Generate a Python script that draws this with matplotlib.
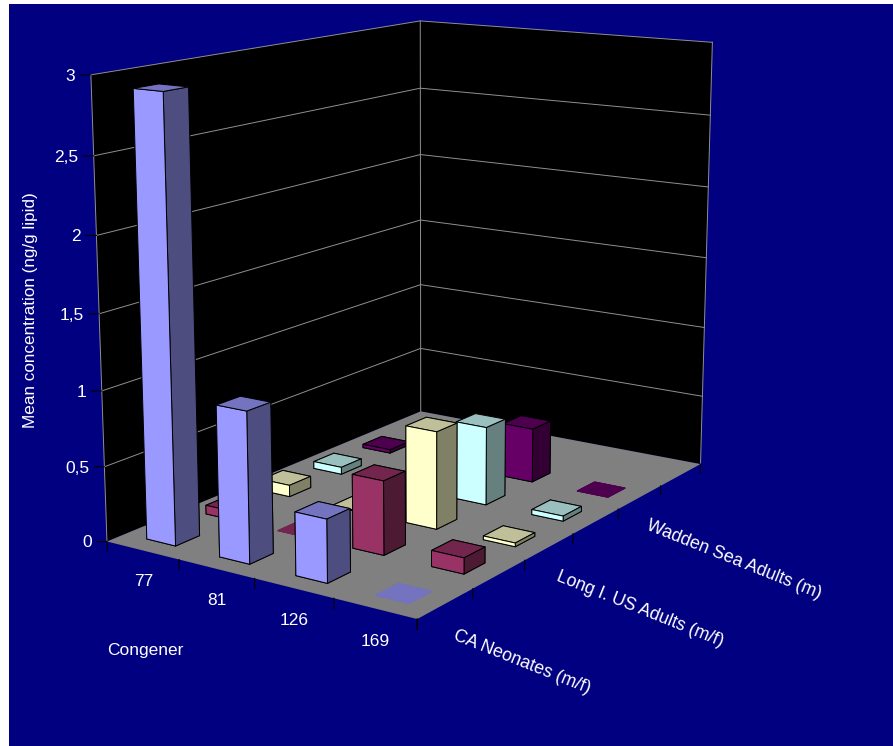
import matplotlib
matplotlib.use("Agg")
import matplotlib.pyplot as plt
from matplotlib.patches import Rectangle
from mpl_toolkits.mplot3d import proj3d
from mpl_toolkits.mplot3d.art3d import Poly3DCollection

plt.rcParams['font.family'] = ['Liberation Sans', 'DejaVu Sans']

congeners = ['77', '81', '126', '169']
series_names = ['CA Neonates (m/f)', '', 'Long I. US Adults (m/f)', '', 'Wadden Sea Adults (m)', '']
z_ticks = [0, 0.5, 1, 1.5, 2, 2.5, 3]
z_labels = ['0', '0,5', '1', '1,5', '2', '2,5', '3']

ca_neonates = [2.91, 0.99, 0.41, 0]
plum_series = [0.06, 0, 0.49, 0.105]
long_island = [0.08, 0.005, 0.66, 0.025]
cyan_series = [0.05, 0.01, 0.54, 0.035]
wadden_sea = [0.025, 0.01, 0.38, 0]
series_values = [ca_neonates, plum_series, long_island, cyan_series, wadden_sea]

# front, side, top
series_colors = [
    ('#9999FF', '#4D4D80', '#7373BF'),
    ('#993366', '#4D1A33', '#73264D'),
    ('#FFFFCC', '#808066', '#BFBF99'),
    ('#CCFFFF', '#668080', '#99BFBF'),
    ('#660066', '#330033', '#4D004D'),
]

W, H = 893, 746
fig = plt.figure(figsize=(W / 100, H / 100), dpi=100, facecolor='white')
fig.add_artist(Rectangle((9 / W, 0), 1 - 9 / W, 1 - 4 / H, transform=fig.transFigure,
                         facecolor='#000080', edgecolor='none', zorder=-5))

ax = fig.add_axes([22.21 / W, 65.02 / H, 772.52 / W, 772.52 / H], projection='3d', computed_zorder=False)
ax.set_axis_off()
ax.patch.set_visible(False)

nx = len(congeners)
ny = len(series_names)
zmax = z_ticks[-1]

ax.set_xlim(0, nx)
ax.set_ylim(0, ny)
ax.set_zlim(0, zmax)
ax.view_init(elev=12.985, azim=-55.848, roll=0.079)
ax.set_proj_type('persp', focal_length=0.536)
ax.set_box_aspect((1, 1.4928, 1.25))


def label_at(x, y, z, s, **kw):
    # 3d text ignores rotation, so project the anchor and place it as 2d text
    px, py, _ = proj3d.proj_transform(x, y, z, ax.get_proj())
    ax.text2D(px, py, s, transform=ax.transData, color='white', **kw)


line_color = '#909090'
# walls and floor
ax.add_collection3d(Poly3DCollection([[(0, 0, 0), (0, ny, 0), (0, ny, zmax), (0, 0, zmax)],
                                      [(0, ny, 0), (nx, ny, 0), (nx, ny, zmax), (0, ny, zmax)]],
                                     facecolors='black', edgecolors='none', zorder=1))
ax.add_collection3d(Poly3DCollection([[(0, 0, 0), (nx, 0, 0), (nx, ny, 0), (0, ny, 0)]],
                                     facecolors='#808080', edgecolors='none', zorder=2))

for v in z_ticks[1:]:
    ax.plot([0, 0, nx], [0, ny, ny], [v, v, v], color=line_color, lw=0.7, zorder=3)
for x0, y0 in [(0, 0), (0, ny), (nx, ny)]:
    ax.plot([x0, x0], [y0, y0], [0, zmax], color=line_color, lw=0.7, zorder=3)

# tick marks
for v, lab in zip(z_ticks, z_labels):
    ax.plot([0, -0.085], [0, -0.065], [v, v], color='black', lw=0.8, zorder=3)
    label_at(-0.125, -0.095, v - 0.008, lab, fontsize=12.5, ha='right', va='center')
for i in range(nx + 1):
    ax.plot([i, i], [0, 0], [0, -0.065], color='black', lw=0.8, zorder=3)
for j in range(ny + 1):
    ax.plot([nx, nx], [j, j], [0, -0.065], color='black', lw=0.8, zorder=3)

for i, lab in enumerate(congeners):
    label_at(i + 0.5, 0, -0.205, lab, fontsize=12.5, ha='center', va='center')
for j, lab in enumerate(series_names):
    if lab:
        label_at(nx + 0.1, j + 0.5, -0.185, lab, fontsize=12.8, ha='left', va='center',
                 rotation=-21.8, rotation_mode='anchor')

# back rows first so nearer bars cover them
bar_w = 0.4
order = 10
for j in range(len(series_values) - 1, -1, -1):
    front, side, top = series_colors[j]
    for i in range(nx):
        val = series_values[j][i]
        edge = 'black' if val > 0 else top
        ax.bar3d(i + 0.3, j + 0.3, 0, bar_w, bar_w, val,
                 color=[top, top, front, side, side, side], shade=False,
                 edgecolor=edge, linewidth=0.7, zorder=order)
        order += 1

fig.text(107 / W, 1 - 650 / H, 'Congener', color='white', fontsize=12.5, ha='left', va='center')
fig.text(31 / W, 1 - 310 / H, 'Mean concentration (ng/g lipid)', color='white', fontsize=12.3,
         rotation=90, ha='center', va='center')

fig.savefig('out.png', dpi=100)
